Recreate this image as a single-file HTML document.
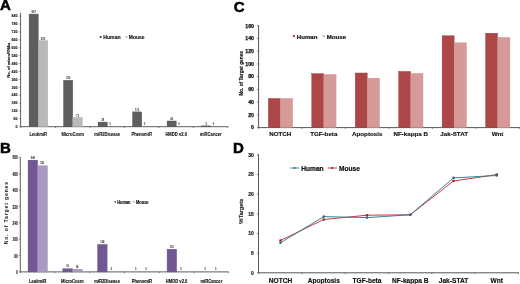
<!DOCTYPE html>
<html><head><meta charset="utf-8"><style>
html,body{margin:0;padding:0;background:#fff;}
body{width:520px;height:284px;overflow:hidden;}
svg{display:block;font-family:"Liberation Sans", sans-serif;filter:blur(0.35px);}
</style></head><body>
<svg width="520" height="284" viewBox="0 0 520 284" font-family='"Liberation Sans", sans-serif'>
<rect x="0" y="0" width="520" height="284" fill="#fff"/>
<text x="-0.10" y="10.30" font-size="15" text-anchor="start" font-weight="bold" fill="#000" stroke="#000" stroke-width="0.5" >A</text>
<text x="0.00" y="153.00" font-size="15" text-anchor="start" font-weight="bold" fill="#000" stroke="#000" stroke-width="0.5" >B</text>
<text x="233.80" y="11.80" font-size="15" text-anchor="start" font-weight="bold" fill="#000" stroke="#000" stroke-width="0.5" >C</text>
<text x="232.90" y="153.10" font-size="15" text-anchor="start" font-weight="bold" fill="#000" stroke="#000" stroke-width="0.5" >D</text>
<line x1="20.60" y1="12.80" x2="20.60" y2="126.70" stroke="#333" stroke-width="0.8"/>
<line x1="20.60" y1="126.70" x2="227.95" y2="126.70" stroke="#333" stroke-width="0.8"/>
<line x1="20.95" y1="126.70" x2="20.95" y2="128.00" stroke="#444" stroke-width="0.6"/>
<line x1="55.45" y1="126.70" x2="55.45" y2="128.00" stroke="#444" stroke-width="0.6"/>
<line x1="89.95" y1="126.70" x2="89.95" y2="128.00" stroke="#444" stroke-width="0.6"/>
<line x1="124.45" y1="126.70" x2="124.45" y2="128.00" stroke="#444" stroke-width="0.6"/>
<line x1="158.95" y1="126.70" x2="158.95" y2="128.00" stroke="#444" stroke-width="0.6"/>
<line x1="193.45" y1="126.70" x2="193.45" y2="128.00" stroke="#444" stroke-width="0.6"/>
<line x1="227.95" y1="126.70" x2="227.95" y2="128.00" stroke="#444" stroke-width="0.6"/>
<line x1="19.20" y1="126.70" x2="20.60" y2="126.70" stroke="#444" stroke-width="0.6"/>
<text x="17.40" y="127.95" font-size="3.6" text-anchor="end" font-weight="bold" fill="#111" stroke="#111" stroke-width="0.1" >0</text>
<line x1="19.20" y1="118.81" x2="20.60" y2="118.81" stroke="#444" stroke-width="0.6"/>
<text x="17.40" y="120.06" font-size="3.6" text-anchor="end" font-weight="bold" fill="#111" stroke="#111" stroke-width="0.1" >60</text>
<line x1="19.20" y1="110.92" x2="20.60" y2="110.92" stroke="#444" stroke-width="0.6"/>
<text x="17.40" y="112.17" font-size="3.6" text-anchor="end" font-weight="bold" fill="#111" stroke="#111" stroke-width="0.1" >120</text>
<line x1="19.20" y1="103.03" x2="20.60" y2="103.03" stroke="#444" stroke-width="0.6"/>
<text x="17.40" y="104.28" font-size="3.6" text-anchor="end" font-weight="bold" fill="#111" stroke="#111" stroke-width="0.1" >180</text>
<line x1="19.20" y1="95.14" x2="20.60" y2="95.14" stroke="#444" stroke-width="0.6"/>
<text x="17.40" y="96.39" font-size="3.6" text-anchor="end" font-weight="bold" fill="#111" stroke="#111" stroke-width="0.1" >240</text>
<line x1="19.20" y1="87.25" x2="20.60" y2="87.25" stroke="#444" stroke-width="0.6"/>
<text x="17.40" y="88.50" font-size="3.6" text-anchor="end" font-weight="bold" fill="#111" stroke="#111" stroke-width="0.1" >300</text>
<line x1="19.20" y1="79.36" x2="20.60" y2="79.36" stroke="#444" stroke-width="0.6"/>
<text x="17.40" y="80.61" font-size="3.6" text-anchor="end" font-weight="bold" fill="#111" stroke="#111" stroke-width="0.1" >360</text>
<line x1="19.20" y1="71.47" x2="20.60" y2="71.47" stroke="#444" stroke-width="0.6"/>
<text x="17.40" y="72.72" font-size="3.6" text-anchor="end" font-weight="bold" fill="#111" stroke="#111" stroke-width="0.1" >420</text>
<line x1="19.20" y1="63.58" x2="20.60" y2="63.58" stroke="#444" stroke-width="0.6"/>
<text x="17.40" y="64.83" font-size="3.6" text-anchor="end" font-weight="bold" fill="#111" stroke="#111" stroke-width="0.1" >480</text>
<line x1="19.20" y1="55.69" x2="20.60" y2="55.69" stroke="#444" stroke-width="0.6"/>
<text x="17.40" y="56.94" font-size="3.6" text-anchor="end" font-weight="bold" fill="#111" stroke="#111" stroke-width="0.1" >540</text>
<line x1="19.20" y1="47.80" x2="20.60" y2="47.80" stroke="#444" stroke-width="0.6"/>
<text x="17.40" y="49.05" font-size="3.6" text-anchor="end" font-weight="bold" fill="#111" stroke="#111" stroke-width="0.1" >600</text>
<line x1="19.20" y1="39.91" x2="20.60" y2="39.91" stroke="#444" stroke-width="0.6"/>
<text x="17.40" y="41.16" font-size="3.6" text-anchor="end" font-weight="bold" fill="#111" stroke="#111" stroke-width="0.1" >660</text>
<line x1="19.20" y1="32.02" x2="20.60" y2="32.02" stroke="#444" stroke-width="0.6"/>
<text x="17.40" y="33.27" font-size="3.6" text-anchor="end" font-weight="bold" fill="#111" stroke="#111" stroke-width="0.1" >720</text>
<line x1="19.20" y1="24.13" x2="20.60" y2="24.13" stroke="#444" stroke-width="0.6"/>
<text x="17.40" y="25.38" font-size="3.6" text-anchor="end" font-weight="bold" fill="#111" stroke="#111" stroke-width="0.1" >780</text>
<line x1="19.20" y1="16.24" x2="20.60" y2="16.24" stroke="#444" stroke-width="0.6"/>
<text x="17.40" y="17.49" font-size="3.6" text-anchor="end" font-weight="bold" fill="#111" stroke="#111" stroke-width="0.1" >840</text>
<rect x="29.10" y="14.10" width="9.10" height="112.60" fill="#5e5e5e" stroke="#454545" stroke-width="0.4"/>
<text x="33.65" y="13.20" font-size="2.7" text-anchor="middle" font-weight="bold" fill="#333" >867</text>
<rect x="38.20" y="40.60" width="9.50" height="86.10" fill="#b9b9b9" stroke="#a8a8a8" stroke-width="0.4"/>
<text x="42.95" y="39.70" font-size="2.7" text-anchor="middle" font-weight="bold" fill="#333" >655</text>
<text transform="translate(38.20,136.00) scale(0.8,1)" font-size="5.2" text-anchor="middle" font-weight="bold" fill="#111" stroke="#111" stroke-width="0.1" >LeukmiR</text>
<rect x="63.60" y="80.30" width="9.10" height="46.40" fill="#5e5e5e" stroke="#454545" stroke-width="0.4"/>
<text x="68.15" y="79.40" font-size="2.7" text-anchor="middle" font-weight="bold" fill="#333" >356</text>
<rect x="72.70" y="117.50" width="9.50" height="9.20" fill="#b9b9b9" stroke="#a8a8a8" stroke-width="0.4"/>
<text x="77.45" y="116.60" font-size="2.7" text-anchor="middle" font-weight="bold" fill="#333" >73</text>
<text transform="translate(72.70,136.00) scale(0.8,1)" font-size="5.2" text-anchor="middle" font-weight="bold" fill="#111" stroke="#111" stroke-width="0.1" >MicroCosm</text>
<rect x="98.10" y="122.10" width="9.10" height="4.60" fill="#5e5e5e" stroke="#454545" stroke-width="0.4"/>
<text x="102.65" y="121.20" font-size="2.7" text-anchor="middle" font-weight="bold" fill="#333" >38</text>
<text x="110.00" y="124.70" font-size="2.7" text-anchor="middle" font-weight="bold" fill="#333" >0</text>
<text transform="translate(107.20,136.00) scale(0.8,1)" font-size="5.2" text-anchor="middle" font-weight="bold" fill="#111" stroke="#111" stroke-width="0.1" >miR2Disease</text>
<rect x="132.60" y="111.90" width="9.10" height="14.80" fill="#5e5e5e" stroke="#454545" stroke-width="0.4"/>
<text x="137.15" y="111.00" font-size="2.7" text-anchor="middle" font-weight="bold" fill="#333" >113</text>
<text x="144.50" y="124.70" font-size="2.7" text-anchor="middle" font-weight="bold" fill="#333" >0</text>
<text transform="translate(141.70,136.00) scale(0.8,1)" font-size="5.2" text-anchor="middle" font-weight="bold" fill="#111" stroke="#111" stroke-width="0.1" >PhenomiR</text>
<rect x="167.10" y="121.00" width="9.10" height="5.70" fill="#5e5e5e" stroke="#454545" stroke-width="0.4"/>
<text x="171.65" y="120.10" font-size="2.7" text-anchor="middle" font-weight="bold" fill="#333" >40</text>
<text x="179.00" y="124.70" font-size="2.7" text-anchor="middle" font-weight="bold" fill="#333" >0</text>
<text transform="translate(176.20,136.00) scale(0.8,1)" font-size="5.2" text-anchor="middle" font-weight="bold" fill="#111" stroke="#111" stroke-width="0.1" >HMDD v2.0</text>
<rect x="201.60" y="125.90" width="9.10" height="0.80" fill="#5e5e5e" stroke="#454545" stroke-width="0.4"/>
<text x="206.15" y="125.00" font-size="2.7" text-anchor="middle" font-weight="bold" fill="#333" >5</text>
<text x="213.50" y="124.70" font-size="2.7" text-anchor="middle" font-weight="bold" fill="#333" >0</text>
<text transform="translate(210.70,136.00) scale(0.8,1)" font-size="5.2" text-anchor="middle" font-weight="bold" fill="#111" stroke="#111" stroke-width="0.1" >miRCancer</text>
<rect x="99.80" y="36.00" width="1.80" height="1.80" fill="#333"/>
<text transform="translate(103.30,38.90) scale(0.93,1)" font-size="5.5" text-anchor="start" font-weight="bold" fill="#111" stroke="#111" stroke-width="0.15" >Human</text>
<rect x="125.60" y="36.00" width="1.80" height="1.80" fill="#b0b0b0"/>
<text transform="translate(128.80,38.90) scale(0.91,1)" font-size="5.5" text-anchor="start" font-weight="bold" fill="#111" stroke="#111" stroke-width="0.15" >Mouse</text>
<text transform="translate(10.4,60.3) rotate(-90)" font-size="4.1" font-weight="bold" text-anchor="middle" fill="#111" stroke="#111" stroke-width="0.15">No. of microRNAs</text>
<line x1="20.30" y1="157.30" x2="20.30" y2="271.90" stroke="#333" stroke-width="0.8"/>
<line x1="20.30" y1="271.90" x2="228.72" y2="271.90" stroke="#333" stroke-width="0.8"/>
<line x1="20.23" y1="271.90" x2="20.23" y2="273.20" stroke="#444" stroke-width="0.6"/>
<line x1="54.98" y1="271.90" x2="54.98" y2="273.20" stroke="#444" stroke-width="0.6"/>
<line x1="89.72" y1="271.90" x2="89.72" y2="273.20" stroke="#444" stroke-width="0.6"/>
<line x1="124.47" y1="271.90" x2="124.47" y2="273.20" stroke="#444" stroke-width="0.6"/>
<line x1="159.22" y1="271.90" x2="159.22" y2="273.20" stroke="#444" stroke-width="0.6"/>
<line x1="193.97" y1="271.90" x2="193.97" y2="273.20" stroke="#444" stroke-width="0.6"/>
<line x1="228.72" y1="271.90" x2="228.72" y2="273.20" stroke="#444" stroke-width="0.6"/>
<line x1="18.90" y1="271.90" x2="20.30" y2="271.90" stroke="#444" stroke-width="0.6"/>
<text transform="translate(17.70,274.00) scale(0.56,1)" font-size="5.6" text-anchor="end" font-weight="bold" fill="#111" stroke="#111" stroke-width="0.1" >0</text>
<line x1="18.90" y1="255.54" x2="20.30" y2="255.54" stroke="#444" stroke-width="0.6"/>
<text transform="translate(17.70,257.64) scale(0.56,1)" font-size="5.6" text-anchor="end" font-weight="bold" fill="#111" stroke="#111" stroke-width="0.1" >80</text>
<line x1="18.90" y1="239.18" x2="20.30" y2="239.18" stroke="#444" stroke-width="0.6"/>
<text transform="translate(17.70,241.28) scale(0.56,1)" font-size="5.6" text-anchor="end" font-weight="bold" fill="#111" stroke="#111" stroke-width="0.1" >160</text>
<line x1="18.90" y1="222.82" x2="20.30" y2="222.82" stroke="#444" stroke-width="0.6"/>
<text transform="translate(17.70,224.92) scale(0.56,1)" font-size="5.6" text-anchor="end" font-weight="bold" fill="#111" stroke="#111" stroke-width="0.1" >240</text>
<line x1="18.90" y1="206.46" x2="20.30" y2="206.46" stroke="#444" stroke-width="0.6"/>
<text transform="translate(17.70,208.56) scale(0.56,1)" font-size="5.6" text-anchor="end" font-weight="bold" fill="#111" stroke="#111" stroke-width="0.1" >320</text>
<line x1="18.90" y1="190.10" x2="20.30" y2="190.10" stroke="#444" stroke-width="0.6"/>
<text transform="translate(17.70,192.20) scale(0.56,1)" font-size="5.6" text-anchor="end" font-weight="bold" fill="#111" stroke="#111" stroke-width="0.1" >400</text>
<line x1="18.90" y1="173.74" x2="20.30" y2="173.74" stroke="#444" stroke-width="0.6"/>
<text transform="translate(17.70,175.84) scale(0.56,1)" font-size="5.6" text-anchor="end" font-weight="bold" fill="#111" stroke="#111" stroke-width="0.1" >480</text>
<line x1="18.90" y1="157.38" x2="20.30" y2="157.38" stroke="#444" stroke-width="0.6"/>
<text transform="translate(17.70,159.48) scale(0.56,1)" font-size="5.6" text-anchor="end" font-weight="bold" fill="#111" stroke="#111" stroke-width="0.1" >560</text>
<rect x="28.10" y="160.20" width="9.50" height="111.70" fill="#715894" stroke="#5e4680" stroke-width="0.4"/>
<text transform="translate(32.85,158.60) scale(0.7,1)" font-size="3.6" text-anchor="middle" font-weight="bold" fill="#222">548</text>
<rect x="37.60" y="165.80" width="9.80" height="106.10" fill="#a999c3" stroke="#9886b6" stroke-width="0.4"/>
<text transform="translate(42.35,164.30) scale(0.7,1)" font-size="3.6" text-anchor="middle" font-weight="bold" fill="#222">521</text>
<text transform="translate(37.60,282.90) scale(0.69,1)" font-size="6.0" text-anchor="middle" font-weight="bold" fill="#111" stroke="#111" stroke-width="0.15" >LeukmiR</text>
<rect x="62.85" y="268.80" width="9.50" height="3.10" fill="#715894" stroke="#5e4680" stroke-width="0.4"/>
<text transform="translate(67.60,267.20) scale(0.7,1)" font-size="3.6" text-anchor="middle" font-weight="bold" fill="#222">16</text>
<rect x="72.35" y="269.20" width="9.80" height="2.70" fill="#a999c3" stroke="#9886b6" stroke-width="0.4"/>
<text transform="translate(77.10,267.70) scale(0.7,1)" font-size="3.6" text-anchor="middle" font-weight="bold" fill="#222">14</text>
<text transform="translate(72.35,282.90) scale(0.69,1)" font-size="6.0" text-anchor="middle" font-weight="bold" fill="#111" stroke="#111" stroke-width="0.15" >MicroCosm</text>
<rect x="97.60" y="244.50" width="9.50" height="27.40" fill="#715894" stroke="#5e4680" stroke-width="0.4"/>
<text transform="translate(102.35,242.90) scale(0.7,1)" font-size="3.6" text-anchor="middle" font-weight="bold" fill="#222">134</text>
<text transform="translate(111.55,269.60) scale(0.7,1)" font-size="3.6" text-anchor="middle" font-weight="bold" fill="#222">0</text>
<text transform="translate(107.10,282.90) scale(0.69,1)" font-size="6.0" text-anchor="middle" font-weight="bold" fill="#111" stroke="#111" stroke-width="0.15" >miR2Disease</text>
<text transform="translate(135.80,269.60) scale(0.7,1)" font-size="3.6" text-anchor="middle" font-weight="bold" fill="#222">0</text>
<text transform="translate(146.30,269.60) scale(0.7,1)" font-size="3.6" text-anchor="middle" font-weight="bold" fill="#222">0</text>
<text transform="translate(141.85,282.90) scale(0.69,1)" font-size="6.0" text-anchor="middle" font-weight="bold" fill="#111" stroke="#111" stroke-width="0.15" >PhenomiR</text>
<rect x="167.10" y="249.20" width="9.50" height="22.70" fill="#715894" stroke="#5e4680" stroke-width="0.4"/>
<text transform="translate(171.85,247.60) scale(0.7,1)" font-size="3.6" text-anchor="middle" font-weight="bold" fill="#222">116</text>
<text transform="translate(181.05,269.60) scale(0.7,1)" font-size="3.6" text-anchor="middle" font-weight="bold" fill="#222">0</text>
<text transform="translate(176.60,282.90) scale(0.69,1)" font-size="6.0" text-anchor="middle" font-weight="bold" fill="#111" stroke="#111" stroke-width="0.15" >HMDD v2.0</text>
<text transform="translate(205.30,269.60) scale(0.7,1)" font-size="3.6" text-anchor="middle" font-weight="bold" fill="#222">0</text>
<text transform="translate(215.80,269.60) scale(0.7,1)" font-size="3.6" text-anchor="middle" font-weight="bold" fill="#222">0</text>
<text transform="translate(211.35,282.90) scale(0.69,1)" font-size="6.0" text-anchor="middle" font-weight="bold" fill="#111" stroke="#111" stroke-width="0.15" >miRCancer</text>
<rect x="114.60" y="201.20" width="1.40" height="1.40" fill="#333"/>
<text transform="translate(117.20,204.00) scale(0.68,1)" font-size="5.8" text-anchor="start" font-weight="bold" fill="#111" stroke="#111" stroke-width="0.2" >Human</text>
<rect x="133.30" y="201.20" width="1.40" height="1.40" fill="#999"/>
<text transform="translate(136.10,204.00) scale(0.68,1)" font-size="5.8" text-anchor="start" font-weight="bold" fill="#111" stroke="#111" stroke-width="0.2" >Mouse</text>
<text transform="translate(8.1,212.7) rotate(-90)" font-size="5.1" font-weight="bold" text-anchor="middle" letter-spacing="0.85" fill="#222" stroke="#222" stroke-width="0.05">No. of Target genes</text>
<line x1="258.60" y1="25.30" x2="258.60" y2="127.60" stroke="#444" stroke-width="0.9"/>
<line x1="258.60" y1="127.60" x2="520.00" y2="127.60" stroke="#444" stroke-width="0.9"/>
<line x1="258.57" y1="127.60" x2="258.57" y2="128.90" stroke="#444" stroke-width="0.6"/>
<line x1="302.03" y1="127.60" x2="302.03" y2="128.90" stroke="#444" stroke-width="0.6"/>
<line x1="345.49" y1="127.60" x2="345.49" y2="128.90" stroke="#444" stroke-width="0.6"/>
<line x1="388.95" y1="127.60" x2="388.95" y2="128.90" stroke="#444" stroke-width="0.6"/>
<line x1="432.41" y1="127.60" x2="432.41" y2="128.90" stroke="#444" stroke-width="0.6"/>
<line x1="475.87" y1="127.60" x2="475.87" y2="128.90" stroke="#444" stroke-width="0.6"/>
<line x1="519.33" y1="127.60" x2="519.33" y2="128.90" stroke="#444" stroke-width="0.6"/>
<line x1="257.10" y1="127.60" x2="258.60" y2="127.60" stroke="#444" stroke-width="0.7"/>
<text x="254.00" y="129.45" font-size="5.2" text-anchor="end" font-weight="bold" fill="#111" stroke="#111" stroke-width="0.25" >0</text>
<line x1="257.10" y1="114.86" x2="258.60" y2="114.86" stroke="#444" stroke-width="0.7"/>
<text x="254.00" y="116.71" font-size="5.2" text-anchor="end" font-weight="bold" fill="#111" stroke="#111" stroke-width="0.25" >20</text>
<line x1="257.10" y1="102.12" x2="258.60" y2="102.12" stroke="#444" stroke-width="0.7"/>
<text x="254.00" y="103.97" font-size="5.2" text-anchor="end" font-weight="bold" fill="#111" stroke="#111" stroke-width="0.25" >40</text>
<line x1="257.10" y1="89.38" x2="258.60" y2="89.38" stroke="#444" stroke-width="0.7"/>
<text x="254.00" y="91.23" font-size="5.2" text-anchor="end" font-weight="bold" fill="#111" stroke="#111" stroke-width="0.25" >60</text>
<line x1="257.10" y1="76.64" x2="258.60" y2="76.64" stroke="#444" stroke-width="0.7"/>
<text x="254.00" y="78.49" font-size="5.2" text-anchor="end" font-weight="bold" fill="#111" stroke="#111" stroke-width="0.25" >80</text>
<line x1="257.10" y1="63.90" x2="258.60" y2="63.90" stroke="#444" stroke-width="0.7"/>
<text x="254.00" y="65.75" font-size="5.2" text-anchor="end" font-weight="bold" fill="#111" stroke="#111" stroke-width="0.25" >100</text>
<line x1="257.10" y1="51.16" x2="258.60" y2="51.16" stroke="#444" stroke-width="0.7"/>
<text x="254.00" y="53.01" font-size="5.2" text-anchor="end" font-weight="bold" fill="#111" stroke="#111" stroke-width="0.25" >120</text>
<line x1="257.10" y1="38.42" x2="258.60" y2="38.42" stroke="#444" stroke-width="0.7"/>
<text x="254.00" y="40.27" font-size="5.2" text-anchor="end" font-weight="bold" fill="#111" stroke="#111" stroke-width="0.25" >140</text>
<line x1="257.10" y1="25.68" x2="258.60" y2="25.68" stroke="#444" stroke-width="0.7"/>
<text x="254.00" y="27.53" font-size="5.2" text-anchor="end" font-weight="bold" fill="#111" stroke="#111" stroke-width="0.25" >160</text>
<rect x="268.30" y="98.50" width="12.00" height="29.10" fill="#ad4646" stroke="#9a3a3a" stroke-width="0.4"/>
<rect x="280.30" y="98.50" width="12.30" height="29.10" fill="#d69a99" stroke="#c98a8a" stroke-width="0.4"/>
<text x="280.30" y="136.20" font-size="6.2" text-anchor="middle" font-weight="bold" fill="#111" stroke="#111" stroke-width="0.15" >NOTCH</text>
<rect x="311.76" y="73.60" width="12.00" height="54.00" fill="#ad4646" stroke="#9a3a3a" stroke-width="0.4"/>
<rect x="323.76" y="74.50" width="12.30" height="53.10" fill="#d69a99" stroke="#c98a8a" stroke-width="0.4"/>
<text x="323.76" y="136.20" font-size="6.2" text-anchor="middle" font-weight="bold" fill="#111" stroke="#111" stroke-width="0.15" >TGF-beta</text>
<rect x="355.22" y="73.00" width="12.00" height="54.60" fill="#ad4646" stroke="#9a3a3a" stroke-width="0.4"/>
<rect x="367.22" y="78.20" width="12.30" height="49.40" fill="#d69a99" stroke="#c98a8a" stroke-width="0.4"/>
<text x="367.22" y="136.20" font-size="6.2" text-anchor="middle" font-weight="bold" fill="#111" stroke="#111" stroke-width="0.15" >Apoptosis</text>
<rect x="398.68" y="71.40" width="12.00" height="56.20" fill="#ad4646" stroke="#9a3a3a" stroke-width="0.4"/>
<rect x="410.68" y="73.50" width="12.30" height="54.10" fill="#d69a99" stroke="#c98a8a" stroke-width="0.4"/>
<text x="410.68" y="136.20" font-size="6.2" text-anchor="middle" font-weight="bold" fill="#111" stroke="#111" stroke-width="0.15" >NF-kappa B</text>
<rect x="442.14" y="35.80" width="12.00" height="91.80" fill="#ad4646" stroke="#9a3a3a" stroke-width="0.4"/>
<rect x="454.14" y="42.80" width="12.30" height="84.80" fill="#d69a99" stroke="#c98a8a" stroke-width="0.4"/>
<text x="454.14" y="136.20" font-size="6.2" text-anchor="middle" font-weight="bold" fill="#111" stroke="#111" stroke-width="0.15" >Jak-STAT</text>
<rect x="485.60" y="33.20" width="12.00" height="94.40" fill="#ad4646" stroke="#9a3a3a" stroke-width="0.4"/>
<rect x="497.60" y="37.40" width="12.30" height="90.20" fill="#d69a99" stroke="#c98a8a" stroke-width="0.4"/>
<text x="497.60" y="136.20" font-size="6.2" text-anchor="middle" font-weight="bold" fill="#111" stroke="#111" stroke-width="0.15" >Wnt</text>
<rect x="292.90" y="35.10" width="2.00" height="2.00" fill="#b03040"/>
<text x="296.80" y="38.60" font-size="6.1" text-anchor="start" font-weight="bold" fill="#111" stroke="#111" stroke-width="0.2" >Human</text>
<rect x="322.60" y="35.10" width="2.00" height="2.00" fill="#e0a0a8"/>
<text x="326.80" y="38.60" font-size="6.1" text-anchor="start" font-weight="bold" fill="#111" stroke="#111" stroke-width="0.2" >Mouse</text>
<text transform="translate(242.7,73.2) rotate(-90)" font-size="4.8" font-weight="bold" text-anchor="middle" fill="#111" stroke="#111" stroke-width="0.15">No. of Target genes</text>
<line x1="258.50" y1="154.30" x2="258.50" y2="272.80" stroke="#444" stroke-width="0.9"/>
<line x1="258.50" y1="272.80" x2="519.00" y2="272.80" stroke="#444" stroke-width="0.9"/>
<line x1="258.88" y1="272.80" x2="258.88" y2="274.10" stroke="#444" stroke-width="0.6"/>
<line x1="302.12" y1="272.80" x2="302.12" y2="274.10" stroke="#444" stroke-width="0.6"/>
<line x1="345.38" y1="272.80" x2="345.38" y2="274.10" stroke="#444" stroke-width="0.6"/>
<line x1="388.62" y1="272.80" x2="388.62" y2="274.10" stroke="#444" stroke-width="0.6"/>
<line x1="431.88" y1="272.80" x2="431.88" y2="274.10" stroke="#444" stroke-width="0.6"/>
<line x1="475.12" y1="272.80" x2="475.12" y2="274.10" stroke="#444" stroke-width="0.6"/>
<line x1="518.38" y1="272.80" x2="518.38" y2="274.10" stroke="#444" stroke-width="0.6"/>
<line x1="257.00" y1="272.80" x2="258.50" y2="272.80" stroke="#444" stroke-width="0.7"/>
<text x="253.90" y="274.60" font-size="5.0" text-anchor="end" font-weight="bold" fill="#111" stroke="#111" stroke-width="0.15" >0</text>
<line x1="257.00" y1="253.14" x2="258.50" y2="253.14" stroke="#444" stroke-width="0.7"/>
<text x="253.90" y="254.94" font-size="5.0" text-anchor="end" font-weight="bold" fill="#111" stroke="#111" stroke-width="0.15" >5</text>
<line x1="257.00" y1="233.47" x2="258.50" y2="233.47" stroke="#444" stroke-width="0.7"/>
<text x="253.90" y="235.27" font-size="5.0" text-anchor="end" font-weight="bold" fill="#111" stroke="#111" stroke-width="0.15" >10</text>
<line x1="257.00" y1="213.81" x2="258.50" y2="213.81" stroke="#444" stroke-width="0.7"/>
<text x="253.90" y="215.61" font-size="5.0" text-anchor="end" font-weight="bold" fill="#111" stroke="#111" stroke-width="0.15" >15</text>
<line x1="257.00" y1="194.14" x2="258.50" y2="194.14" stroke="#444" stroke-width="0.7"/>
<text x="253.90" y="195.94" font-size="5.0" text-anchor="end" font-weight="bold" fill="#111" stroke="#111" stroke-width="0.15" >20</text>
<line x1="257.00" y1="174.48" x2="258.50" y2="174.48" stroke="#444" stroke-width="0.7"/>
<text x="253.90" y="176.28" font-size="5.0" text-anchor="end" font-weight="bold" fill="#111" stroke="#111" stroke-width="0.15" >25</text>
<line x1="257.00" y1="154.81" x2="258.50" y2="154.81" stroke="#444" stroke-width="0.7"/>
<text x="253.90" y="156.61" font-size="5.0" text-anchor="end" font-weight="bold" fill="#111" stroke="#111" stroke-width="0.15" >30</text>
<polyline points="280.50,240.50 323.75,219.50 367.00,215.20 410.25,214.80 453.50,181.00 496.75,174.60" fill="none" stroke="#c83030" stroke-width="0.95"/>
<polyline points="280.50,242.80 323.75,216.60 367.00,217.60 410.25,214.80 453.50,177.90 496.75,175.50" fill="none" stroke="#2f7d90" stroke-width="0.95"/>
<circle cx="280.50" cy="240.50" r="1.3" fill="#a02030"/>
<circle cx="323.75" cy="219.50" r="1.3" fill="#a02030"/>
<circle cx="367.00" cy="215.20" r="1.3" fill="#a02030"/>
<circle cx="410.25" cy="214.80" r="1.3" fill="#a02030"/>
<circle cx="453.50" cy="181.00" r="1.3" fill="#a02030"/>
<circle cx="496.75" cy="174.60" r="1.3" fill="#a02030"/>
<circle cx="280.50" cy="242.80" r="1.3" fill="#2a7080"/>
<circle cx="323.75" cy="216.60" r="1.3" fill="#2a7080"/>
<circle cx="367.00" cy="217.60" r="1.3" fill="#2a7080"/>
<circle cx="410.25" cy="214.80" r="1.3" fill="#2a7080"/>
<circle cx="453.50" cy="177.90" r="1.3" fill="#2a7080"/>
<circle cx="496.75" cy="175.50" r="1.3" fill="#2a7080"/>
<text x="280.50" y="282.70" font-size="6.6" text-anchor="middle" font-weight="bold" fill="#111" stroke="#111" stroke-width="0.15" >NOTCH</text>
<text x="323.75" y="282.70" font-size="6.6" text-anchor="middle" font-weight="bold" fill="#111" stroke="#111" stroke-width="0.15" >Apoptosis</text>
<text x="367.00" y="282.70" font-size="6.6" text-anchor="middle" font-weight="bold" fill="#111" stroke="#111" stroke-width="0.15" >TGF-beta</text>
<text x="410.25" y="282.70" font-size="6.6" text-anchor="middle" font-weight="bold" fill="#111" stroke="#111" stroke-width="0.15" >NF-kappa B</text>
<text x="453.50" y="282.70" font-size="6.6" text-anchor="middle" font-weight="bold" fill="#111" stroke="#111" stroke-width="0.15" >Jak-STAT</text>
<text x="496.75" y="282.70" font-size="6.6" text-anchor="middle" font-weight="bold" fill="#111" stroke="#111" stroke-width="0.15" >Wnt</text>
<line x1="290.00" y1="168.00" x2="299.20" y2="168.00" stroke="#3a8c9e" stroke-width="1.0"/>
<circle cx="294.6" cy="168" r="1.1" fill="#2a7080"/>
<text x="301.30" y="170.60" font-size="6.6" text-anchor="start" font-weight="bold" fill="#111" stroke="#111" stroke-width="0.2" >Human</text>
<line x1="327.70" y1="168.00" x2="337.00" y2="168.00" stroke="#d83434" stroke-width="1.0"/>
<circle cx="332.3" cy="168" r="1.1" fill="#a02030"/>
<text x="339.00" y="170.60" font-size="6.6" text-anchor="start" font-weight="bold" fill="#111" stroke="#111" stroke-width="0.2" >Mouse</text>
<text transform="translate(242.9,211.3) rotate(-90)" font-size="6.0" text-anchor="middle" fill="#111" stroke="#111" stroke-width="0.2">%Targets</text>
</svg>
</body></html>
